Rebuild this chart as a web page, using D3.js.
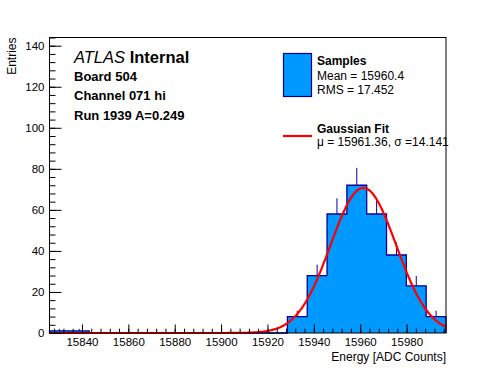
<!DOCTYPE html>
<html>
<head>
<meta charset="utf-8">
<script src="https://cdn.jsdelivr.net/npm/d3@7"></script>
<style>
  body { margin: 0; background: #fff; }
  text { font-family: "Liberation Sans", Arial, Helvetica, sans-serif; fill: #000; }
</style>
</head>
<body>
<svg id="chart" width="496" height="372"></svg>
<script>
// histogram binning (20 equal bins across the x range)
var xRange = [15826, 15997];
var binCounts = [1, 1, 0, 0, 0, 0, 0, 0, 0, 0, 0, 0, 8, 28, 58, 72, 58, 38, 23, 8];
var yRange = [0, 144];
var xTicks = [15840, 15860, 15880, 15900, 15920, 15940, 15960, 15980];
var yTicks = [0, 20, 40, 60, 80, 100, 120, 140];

// gaussian fit parameters (from the legend)
var fitMu = 15961.36, fitSigma = 14.141, fitAmp = 70.7;

var infoLines = ["Board 504", "Channel 071 hi", "Run 1939 A=0.249"];
var statsLines = ["Mean = 15960.4", "RMS = 17.452"];
var fitText = "\u03bc = 15961.36, \u03c3 =14.141";

var fillBlue = "#0099ff", lineBlue = "#000099";

var svg = d3.select("#chart");
svg.append("rect").attr("width", 496).attr("height", 372).attr("fill", "#fff");

var frameL = 49.5, frameR = 446, frameT = 37.5, frameB = 333;

var x = d3.scaleLinear().domain(xRange).range([frameL, frameR]);
var y = d3.scaleLinear().domain(yRange).range([frameB, frameT]);

var binWidth = (xRange[1] - xRange[0]) / binCounts.length;

// step outline of the histogram
var pts = [[xRange[0], 0]];
binCounts.forEach(function(c, i) {
  pts.push([xRange[0] + i * binWidth, c]);
  pts.push([xRange[0] + (i + 1) * binWidth, c]);
});
pts.push([xRange[1], 0]);

var line = d3.line()
  .x(function(d) { return x(d[0]); })
  .y(function(d) { return y(d[1]); });

var plot = svg.append("g");
plot.append("path").attr("d", line(pts) + "Z").attr("fill", fillBlue).attr("stroke", "none");

// error bars (upper half only, lower half is hidden by the fill)
binCounts.forEach(function(c, i) {
  if (c <= 0) return;
  var cx = x(xRange[0] + (i + 0.5) * binWidth);
  plot.append("line")
    .attr("x1", cx).attr("x2", cx)
    .attr("y1", y(c)).attr("y2", y(c + Math.sqrt(c)))
    .attr("stroke", lineBlue).attr("stroke-width", 1);
});

plot.append("path").attr("d", line(pts)).attr("fill", "none")
  .attr("stroke", lineBlue).attr("stroke-width", 1.3);

// fit curve
var fitPts = d3.range(xRange[0], xRange[1] + 0.25, 0.25).map(function(v) {
  var t = (v - fitMu) / fitSigma;
  return [v, fitAmp * Math.exp(-0.5 * t * t)];
});
plot.append("path").attr("d", line(fitPts)).attr("fill", "none")
  .attr("stroke", "#ff0000").attr("stroke-width", 2.2);

// frame
svg.append("rect")
  .attr("x", frameL).attr("y", frameT)
  .attr("width", frameR - frameL).attr("height", frameB - frameT)
  .attr("fill", "none").attr("stroke", "#000").attr("stroke-width", 1);

// axes
var xMinor = d3.range(15828, xRange[1], 4);
var yMinor = d3.range(0, yRange[1] + 1, 4);

svg.append("g").attr("transform", "translate(0," + frameB + ")")
  .call(d3.axisBottom(x).tickValues(xTicks).tickSize(-8.6).tickPadding(5).tickFormat(d3.format("d")));
svg.append("g").attr("transform", "translate(0," + frameB + ")")
  .call(d3.axisBottom(x).tickValues(xMinor).tickSize(-4.3).tickFormat(""));

svg.append("g").attr("transform", "translate(" + frameL + ",0)")
  .call(d3.axisLeft(y).tickValues(yTicks).tickSize(-12).tickPadding(5));
svg.append("g").attr("transform", "translate(" + frameL + ",0)")
  .call(d3.axisLeft(y).tickValues(yMinor).tickSize(-6).tickFormat(""));

svg.selectAll(".domain").remove();
svg.selectAll(".tick line").attr("stroke", "#000");
svg.selectAll(".tick text")
  .style("font-family", "'Liberation Sans', Arial, sans-serif")
  .style("font-size", "11.5px").attr("fill", "#000");

// axis titles
svg.append("text").attr("x", frameR).attr("y", 361)
  .attr("text-anchor", "end").style("font-size", "12px")
  .text("Energy [ADC Counts]");
svg.append("text")
  .attr("transform", "translate(16," + frameT + ") rotate(-90)")
  .attr("text-anchor", "end").style("font-size", "12px")
  .text("Entries");

// ATLAS label block
var tl = svg.append("text").attr("x", 74).attr("y", 62.5).style("font-size", "16.5px");
tl.append("tspan").style("font-style", "italic").text("ATLAS");
tl.append("tspan").style("font-weight", "bold").text(" Internal");
infoLines.forEach(function(s, i) {
  svg.append("text").attr("x", 74).attr("y", 81 + i * 19.3)
    .style("font-size", "13px").style("font-weight", "bold").text(s);
});

// legend
svg.append("rect").attr("x", 283.5).attr("y", 53.5).attr("width", 28).attr("height", 43)
  .attr("fill", fillBlue).attr("stroke", lineBlue).attr("stroke-width", 1.2);
svg.append("text").attr("x", 317).attr("y", 65).style("font-size", "12px")
  .style("font-weight", "bold").text("Samples");
statsLines.forEach(function(s, i) {
  svg.append("text").attr("x", 317).attr("y", 80 + i * 13.5).style("font-size", "12px").text(s);
});
svg.append("line").attr("x1", 283).attr("x2", 312).attr("y1", 136).attr("y2", 136)
  .attr("stroke", "#ff0000").attr("stroke-width", 2.2);
svg.append("text").attr("x", 317).attr("y", 132.5).style("font-size", "12px")
  .style("font-weight", "bold").text("Gaussian Fit");
svg.append("text").attr("x", 317).attr("y", 146).style("font-size", "12px").text(fitText);
</script>
</body>
</html>
